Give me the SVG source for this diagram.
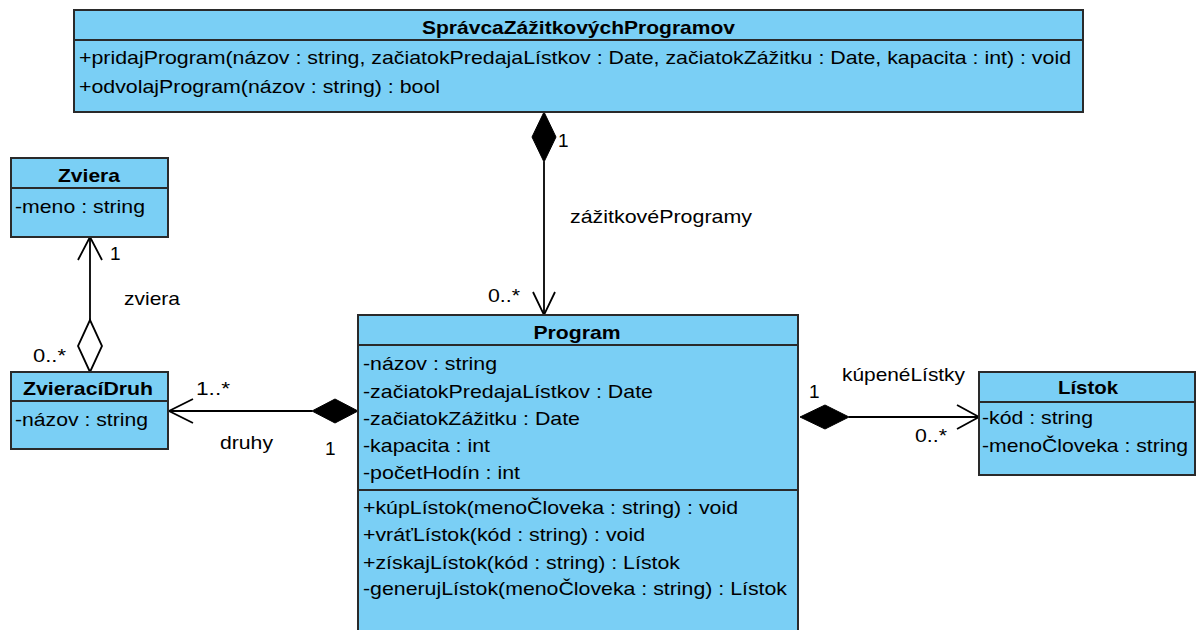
<svg xmlns="http://www.w3.org/2000/svg" width="1197" height="630" viewBox="0 0 1197 630">
<style>
.box{fill:#7ACFF5;stroke:#2a2a2a;stroke-width:2}
.sep{stroke:#2a2a2a;stroke-width:2}
text{font-family:"Liberation Sans",Arial,sans-serif;font-size:19px;fill:#000}
.h{font-weight:bold;text-anchor:middle}
.ln{stroke:#000;stroke-width:1.8;fill:none}
.fd{fill:#000;stroke:#000;stroke-width:1}
.od{fill:#fff;stroke:#000;stroke-width:1.8}
</style>
<rect width="1197" height="630" fill="#fff"/>

<g id="connectors">
  <!-- Spravca -> Program -->
  <line class="ln" x1="544" y1="162" x2="544" y2="315"/>
  <polygon class="fd" points="544,112 532,137 544,162 556,137"/>
  <polyline class="ln" points="533,292 544,315 555,292"/>
  <text x="558" y="147">1</text>
  <text x="570" y="223" textLength="182" lengthAdjust="spacingAndGlyphs">zážitkovéProgramy</text>
  <text x="488" y="302" textLength="32" lengthAdjust="spacingAndGlyphs">0..*</text>

  <!-- ZvieraciDruh -> Zviera -->
  <line class="ln" x1="90" y1="237" x2="90" y2="320"/>
  <polygon class="od" points="90,372 78,346 90,320 102,346"/>
  <polyline class="ln" points="78,260 90,237 102,260"/>
  <text x="110" y="260">1</text>
  <text x="124" y="305" textLength="56" lengthAdjust="spacingAndGlyphs">zviera</text>
  <text x="33" y="362" textLength="33" lengthAdjust="spacingAndGlyphs">0..*</text>

  <!-- Program -> ZvieraciDruh -->
  <line class="ln" x1="168" y1="411" x2="312" y2="411"/>
  <polygon class="fd" points="358,411 335,399 312,411 335,423"/>
  <polyline class="ln" points="193,399 169,411 193,423"/>
  <text x="196" y="395" textLength="34" lengthAdjust="spacingAndGlyphs">1..*</text>
  <text x="220" y="449" textLength="53" lengthAdjust="spacingAndGlyphs">druhy</text>
  <text x="325" y="455">1</text>

  <!-- Program -> Listok -->
  <line class="ln" x1="849" y1="417" x2="979" y2="417"/>
  <polygon class="fd" points="800,417 825,405 849,417 825,429"/>
  <polyline class="ln" points="957,405 979,417 957,429"/>
  <text x="809" y="398">1</text>
  <text x="842" y="381" textLength="123" lengthAdjust="spacingAndGlyphs">kúpenéLístky</text>
  <text x="915" y="442" textLength="32" lengthAdjust="spacingAndGlyphs">0..*</text>
</g>

<g id="SpravcaZazitkovychProgramov">
  <rect class="box" x="74" y="10" width="1009" height="102"/>
  <line class="sep" x1="74" y1="40" x2="1083" y2="40"/>
  <text class="h" x="578.5" y="34" textLength="313" lengthAdjust="spacingAndGlyphs">SprávcaZážitkovýchProgramov</text>
  <text x="79" y="64" textLength="992" lengthAdjust="spacingAndGlyphs">+pridajProgram(názov : string, začiatokPredajaLístkov : Date, začiatokZážitku : Date, kapacita : int) : void</text>
  <text x="79" y="93" textLength="361" lengthAdjust="spacingAndGlyphs">+odvolajProgram(názov : string) : bool</text>
</g>

<g id="Zviera">
  <rect class="box" x="11" y="158" width="157" height="79"/>
  <line class="sep" x1="11" y1="188" x2="168" y2="188"/>
  <text class="h" x="89" y="182" textLength="62" lengthAdjust="spacingAndGlyphs">Zviera</text>
  <text x="15" y="213" textLength="130" lengthAdjust="spacingAndGlyphs">-meno : string</text>
</g>

<g id="ZvieraciDruh">
  <rect class="box" x="11" y="372" width="157" height="77"/>
  <line class="sep" x1="11" y1="401" x2="168" y2="401"/>
  <text class="h" x="88" y="395" textLength="130" lengthAdjust="spacingAndGlyphs">ZvieracíDruh</text>
  <text x="15" y="426" textLength="133" lengthAdjust="spacingAndGlyphs">-názov : string</text>
</g>

<g id="Program">
  <rect class="box" x="358" y="315" width="440" height="330"/>
  <line class="sep" x1="358" y1="345" x2="798" y2="345"/>
  <line class="sep" x1="358" y1="490" x2="798" y2="490"/>
  <text class="h" x="577" y="339" textLength="87" lengthAdjust="spacingAndGlyphs">Program</text>
  <text x="363" y="370" textLength="134" lengthAdjust="spacingAndGlyphs">-názov : string</text>
  <text x="363" y="398" textLength="290" lengthAdjust="spacingAndGlyphs">-začiatokPredajaLístkov : Date</text>
  <text x="363" y="425" textLength="217" lengthAdjust="spacingAndGlyphs">-začiatokZážitku : Date</text>
  <text x="363" y="452" textLength="127" lengthAdjust="spacingAndGlyphs">-kapacita : int</text>
  <text x="363" y="479" textLength="157" lengthAdjust="spacingAndGlyphs">-početHodín : int</text>
  <text x="363" y="514" textLength="375" lengthAdjust="spacingAndGlyphs">+kúpLístok(menoČloveka : string) : void</text>
  <text x="363" y="541" textLength="282" lengthAdjust="spacingAndGlyphs">+vráťLístok(kód : string) : void</text>
  <text x="363" y="569" textLength="317" lengthAdjust="spacingAndGlyphs">+získajLístok(kód : string) : Lístok</text>
  <text x="363" y="595" textLength="424" lengthAdjust="spacingAndGlyphs">-generujLístok(menoČloveka : string) : Lístok</text>
</g>

<g id="Listok">
  <rect class="box" x="979" y="372" width="216" height="103"/>
  <line class="sep" x1="979" y1="402" x2="1195" y2="402"/>
  <text class="h" x="1088" y="394" textLength="60" lengthAdjust="spacingAndGlyphs">Lístok</text>
  <text x="982" y="424" textLength="111" lengthAdjust="spacingAndGlyphs">-kód : string</text>
  <text x="982" y="452" textLength="206" lengthAdjust="spacingAndGlyphs">-menoČloveka : string</text>
</g>
</svg>
